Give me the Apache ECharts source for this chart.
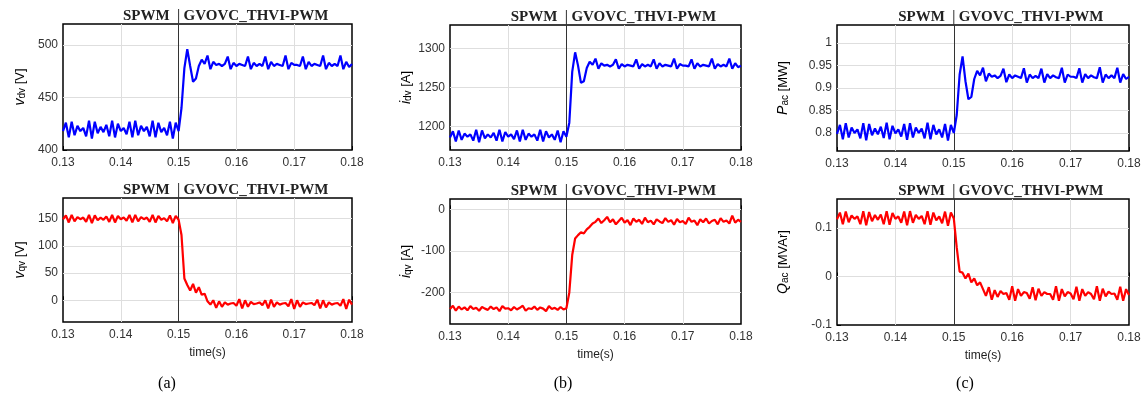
<!DOCTYPE html>
<html>
<head>
<meta charset="utf-8">
<script src="https://cdn.jsdelivr.net/npm/echarts@6/dist/echarts.min.js"></script>
<style>
  html, body { margin: 0; padding: 0; background: #fff; }
  #chart { width: 1145px; height: 400px; }
</style>
</head>
<body>
<div id="chart"></div>
<script>
// Sampling grid of the recorded waveforms (s)
const T0 = 0.13;
const DT = 0.0005;
const switchTime = 0.15;
const timeTicks = [0.13, 0.14, 0.15, 0.16, 0.17, 0.18];
const leftMode = 'SPWM';
const rightMode = 'GVOVC_THVI-PWM';
const captions = ['(a)', '(b)', '(c)'];

// d-axis voltage [V]
const vdv = [418,426,412,427,414,423,418,421,413,428,
  411,427,416,422,417,424,413,428,412,425,
  418,421,415,427,412,428,414,423,418,422,
  413,428,412,426,417,421,414,427,411,426,
  418,440,478,496,480,465,468,480,486,482,
  490,477,484,481,482,480,482,489,477,483,
  480,482,481,480,489,477,483,480,482,480,
  489,477,484,480,482,481,480,490,477,483,
  481,481,480,489,477,484,480,482,481,480,
  490,477,483,480,482,480,490,477,484,479,
  482];

// q-axis voltage [V]
const vqv = [149,156,143,157,145,153,149,152,144,157,
  142,156,147,152,148,154,144,157,143,155,
  149,152,146,157,143,157,145,153,149,152,
  144,157,143,155,148,151,145,156,142,155,
  148,120,40,28,18,30,14,24,10,12,
  -2,-8,0,-14,-2,-12,-4,-8,-6,-5,
  -10,2,-15,0,-12,-3,-7,-6,-4,-9,
  0,-15,1,-12,-4,-8,-6,-5,-11,2,
  -16,0,-12,-4,-7,-6,-5,-9,1,-15,
  0,-13,-4,-8,-6,-5,-10,2,-16,1,
  -8];

// d-axis current [A]
const idv = [1186,1194,1181,1195,1183,1191,1187,1190,1182,1196,
  1180,1195,1185,1190,1186,1192,1182,1196,1181,1193,
  1187,1190,1184,1195,1181,1196,1183,1191,1187,1190,
  1182,1196,1181,1194,1186,1190,1183,1195,1180,1194,
  1187,1205,1270,1295,1278,1256,1258,1275,1283,1279,
  1287,1274,1281,1278,1279,1277,1279,1286,1274,1280,
  1277,1279,1278,1277,1286,1274,1280,1277,1279,1277,
  1286,1274,1281,1277,1279,1278,1277,1287,1274,1280,
  1278,1278,1277,1286,1274,1281,1277,1279,1278,1277,
  1287,1274,1280,1277,1279,1277,1287,1274,1281,1276,
  1278];

// q-axis current [A]
const iqv = [-240,-232,-244,-234,-241,-236,-243,-233,-240,-237,
  -244,-235,-239,-242,-234,-240,-236,-245,-233,-239,
  -238,-243,-235,-241,-237,-232,-244,-238,-240,-234,
  -242,-236,-239,-245,-233,-240,-237,-242,-235,-241,
  -238,-200,-110,-70,-62,-55,-58,-48,-42,-34,
  -30,-22,-33,-26,-18,-31,-24,-36,-28,-20,
  -32,-26,-38,-22,-30,-25,-35,-20,-31,-27,
  -36,-24,-29,-33,-21,-30,-26,-37,-23,-31,
  -28,-35,-20,-30,-27,-38,-24,-31,-22,-34,
  -28,-25,-36,-21,-30,-27,-34,-15,-32,-25,
  -30];

// active power [MW]
const pac = [0.798,0.818,0.786,0.822,0.790,0.812,0.800,0.808,0.788,0.822,
  0.784,0.820,0.795,0.810,0.797,0.814,0.789,0.823,0.786,0.816,
  0.799,0.808,0.792,0.820,0.785,0.822,0.790,0.812,0.800,0.810,
  0.788,0.823,0.786,0.818,0.797,0.808,0.790,0.820,0.783,0.818,
  0.800,0.840,0.930,0.970,0.915,0.875,0.880,0.920,0.938,0.928,
  0.945,0.915,0.932,0.925,0.928,0.922,0.927,0.943,0.913,0.930,
  0.922,0.928,0.925,0.922,0.944,0.912,0.930,0.922,0.927,0.922,
  0.943,0.912,0.931,0.922,0.928,0.924,0.922,0.945,0.912,0.930,
  0.925,0.925,0.922,0.944,0.912,0.931,0.922,0.928,0.924,0.922,
  0.946,0.912,0.930,0.922,0.928,0.922,0.945,0.912,0.931,0.920,
  0.925];

// reactive power [MVAr]
const qac = [0.118,0.132,0.108,0.134,0.112,0.126,0.119,0.124,0.108,0.135,
  0.106,0.133,0.114,0.127,0.117,0.128,0.108,0.135,0.107,0.131,
  0.119,0.124,0.111,0.134,0.106,0.135,0.111,0.127,0.119,0.125,
  0.108,0.135,0.107,0.132,0.116,0.124,0.110,0.134,0.105,0.132,
  0.120,0.060,0.010,0.008,-0.004,0.006,-0.012,-0.004,-0.018,-0.012,
  -0.026,-0.040,-0.022,-0.048,-0.028,-0.042,-0.030,-0.036,-0.034,-0.048,
  -0.020,-0.050,-0.026,-0.040,-0.032,-0.034,-0.046,-0.022,-0.049,-0.025,
  -0.040,-0.032,-0.036,-0.036,-0.048,-0.020,-0.050,-0.026,-0.041,-0.032,
  -0.035,-0.047,-0.021,-0.050,-0.026,-0.040,-0.032,-0.036,-0.047,-0.020,
  -0.050,-0.025,-0.041,-0.031,-0.036,-0.035,-0.048,-0.021,-0.050,-0.026,
  -0.038];

// y tick labels of each panel
const vdvTicks = [400, 450, 500];
const vqvTicks = [0, 50, 100, 150];
const idvTicks = [1200, 1250, 1300];
const iqvTicks = [-200, -100, 0];
const pacTicks = [0.8, 0.85, 0.9, 0.95, 1];
const qacTicks = [-0.1, 0, 0.1];

const BLUE = '#0000ff';
const RED = '#ff0000';
const SANS = '"Liberation Sans", Arial, sans-serif';
const SERIF = '"Liberation Serif", "Times New Roman", serif';

const panels = [
  { rect: [63, 24, 289, 126], data: vdv, color: BLUE, ticks: vdvTicks, min: 400, max: 520, sym: 'v', sub: 'dv', unit: ' [V]', gap: 36, bottom: false },
  { rect: [63, 198, 289, 124], data: vqv, color: RED, ticks: vqvTicks, min: -40, max: 188, sym: 'v', sub: 'qv', unit: ' [V]', gap: 36, bottom: true },
  { rect: [450, 25, 291, 125], data: idv, color: BLUE, ticks: idvTicks, min: 1170, max: 1330, sym: 'i', sub: 'dv', unit: ' [A]', gap: 37, bottom: false },
  { rect: [450, 199, 291, 125], data: iqv, color: RED, ticks: iqvTicks, min: -276, max: 25, sym: 'i', sub: 'qv', unit: ' [A]', gap: 37, bottom: true },
  { rect: [837, 25, 292, 126], data: pac, color: BLUE, ticks: pacTicks, min: 0.76, max: 1.04, sym: 'P', sub: 'ac', unit: ' [MW]', gap: 47, bottom: false },
  { rect: [837, 199, 292, 126], data: qac, color: RED, ticks: qacTicks, min: -0.1, max: 0.16, sym: 'Q', sub: 'ac', unit: ' [MVAr]', gap: 47, bottom: true }
];

const grid = [], xAxis = [], yAxis = [], series = [];
panels.forEach((p, k) => {
  grid.push({ left: p.rect[0], top: p.rect[1], width: p.rect[2], height: p.rect[3],
    show: true, borderColor: '#000', borderWidth: 1.5, backgroundColor: 'transparent' });
  xAxis.push({
    type: 'value', gridIndex: k, min: 0.13, max: 0.18,
    axisLine: { show: false },
    axisTick: { show: true, inside: true, length: 4, customValues: timeTicks, lineStyle: { color: '#000' } },
    axisLabel: { customValues: timeTicks, formatter: v => String(v), fontFamily: SANS, fontSize: 12, color: '#333', margin: 7 },
    splitLine: { show: false },
    name: p.bottom ? 'time(s)' : '', nameLocation: 'middle', nameGap: 25,
    nameTextStyle: { fontFamily: SANS, fontSize: 12, color: '#222' }
  });
  yAxis.push({
    type: 'value', gridIndex: k, min: p.min, max: p.max,
    axisLine: { show: false },
    axisTick: { show: true, inside: true, length: 4, customValues: p.ticks, lineStyle: { color: '#000' } },
    axisLabel: { customValues: p.ticks, formatter: v => String(v), fontFamily: SANS, fontSize: 12, color: '#333', margin: 5 },
    splitLine: { show: false },
    name: '{m|' + p.sym + '}{s|' + p.sub + '}{u|' + p.unit + '}',
    nameLocation: 'middle', nameGap: p.gap, nameRotate: 90,
    nameTextStyle: {
      rich: {
        m: { fontFamily: SANS, fontSize: 14, fontStyle: 'italic', color: '#000' },
        s: { fontFamily: SANS, fontSize: 10, color: '#000', verticalAlign: 'bottom' },
        u: { fontFamily: SANS, fontSize: 13, color: '#000' }
      }
    }
  });
  // light grid lines at the tick positions, kept beneath the waveform
  const gridLines = timeTicks.slice(1, -1).map(t => ({ xAxis: t }))
    .concat(p.ticks.filter(v => v > p.min && v < p.max).map(v => ({ yAxis: v })));
  series.push({
    type: 'line', xAxisIndex: k, yAxisIndex: k, data: [], z: 1, silent: true,
    markLine: { z: 1, symbol: 'none', silent: true, animation: false, label: { show: false },
      lineStyle: { color: '#dedede', width: 1, type: 'solid' }, data: gridLines }
  });
  series.push({
    type: 'line', xAxisIndex: k, yAxisIndex: k, z: 3, showSymbol: false, silent: true,
    data: p.data.map((v, i) => [+(T0 + i * DT).toFixed(4), v]),
    lineStyle: { color: p.color, width: 2.2 }, itemStyle: { color: p.color },
    markLine: { z: 2, symbol: 'none', silent: true, animation: false, label: { show: false },
      lineStyle: { color: '#333', width: 1, type: 'solid' }, data: [{ xAxis: switchTime }] }
  });
});

const chart = echarts.init(document.getElementById('chart'), null, { renderer: 'canvas' });
chart.setOption({ animation: false, backgroundColor: '#fff', grid, xAxis, yAxis, series });

// mode labels above each panel, split at the switching instant
const graphic = [];
panels.forEach((p, k) => {
  const x0 = chart.convertToPixel({ xAxisIndex: k }, switchTime);
  const yTop = chart.convertToPixel({ yAxisIndex: k }, p.max);
  graphic.push({ type: 'line', silent: true, shape: { x1: x0, y1: yTop - 15, x2: x0, y2: yTop },
    style: { stroke: '#333', lineWidth: 1 } });
  graphic.push({ type: 'text', silent: true, x: x0 - 9, y: yTop - 8,
    style: { text: leftMode, font: 'bold 15px ' + SERIF, fill: '#222', align: 'right', verticalAlign: 'middle' } });
  graphic.push({ type: 'text', silent: true, x: x0 + 5, y: yTop - 8,
    style: { text: rightMode, font: 'bold 15px ' + SERIF, fill: '#222', align: 'left', verticalAlign: 'middle' } });
});
const captionX = [167, 563, 965];
captions.forEach((c, i) => {
  graphic.push({ type: 'text', silent: true, x: captionX[i], y: 384,
    style: { text: c, font: '16px ' + SERIF, fill: '#000', align: 'center', verticalAlign: 'middle' } });
});
chart.setOption({ graphic });
</script>
</body>
</html>
